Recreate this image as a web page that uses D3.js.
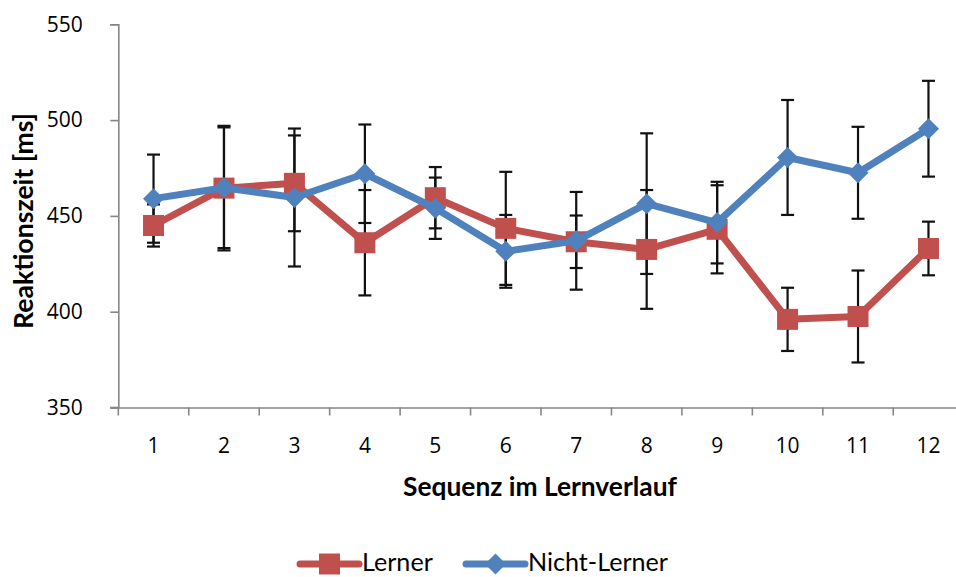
<!DOCTYPE html>
<html>
<head>
<meta charset="utf-8">
<script src="https://cdn.jsdelivr.net/npm/d3@7"></script>
<style>
  html, body { margin: 0; padding: 0; background: #fff; }
  svg { display: block; }
</style>
</head>
<body>
<svg id="chart" width="956" height="577"></svg>
<script>
// Sequence numbers along the learning course
const categories = ["1", "2", "3", "4", "5", "6", "7", "8", "9", "10", "11", "12"];

// Mean reaction times (ms) and error-bar half-widths
const lerner = [445, 464.5, 467, 436, 459.5, 443.5, 436.5, 432.5, 443, 396, 397.5, 433];
const lernerErr = [11, 32.5, 25, 27.5, 16, 29.5, 13.7, 31, 23, 16.5, 24, 14];
const nichtLerner = [459, 464.7, 459.6, 472, 454, 431.5, 437, 456.4, 446.5, 480.5, 472.5, 495.5];
const nichtLernerErr = [23, 31.5, 36, 25.7, 16, 19, 25.5, 36.7, 21.3, 30, 24, 25];

const yTicks = [350, 400, 450, 500, 550];
const colors = { "Lerner": "#C0504D", "Nicht-Lerner": "#4F81BD" };

const svg = d3.select("#chart");
const axisColor = "#868686";
const FONT = "Lato, 'Open Sans', sans-serif";
const TICK_FONT = "'Open Sans', sans-serif";
const tickSize = 21;

// scale a text element's font size so that it spans the given width
function fitWidth(sel, target) {
  const node = sel.node();
  const size = parseFloat(sel.style("font-size"));
  const w = node.getComputedTextLength();
  const fitted = +(size * target / w).toFixed(2);
  sel.style("font-size", fitted + "px");
  return fitted;
}

const x = d3.scaleBand().domain(categories).range([118.3, 963.7]).padding(0);
const y = d3.scaleLinear().domain([350, 550]).range([407.5, 24.3]);
const cx = c => x(c) + x.bandwidth() / 2;

// Y axis
const yAxis = svg.append("g")
  .attr("transform", "translate(118.3,0)")
  .call(d3.axisLeft(y).tickValues(yTicks).tickSize(8).tickPadding(27.5));
yAxis.select(".domain").attr("stroke", axisColor).attr("stroke-width", 1.6);
yAxis.selectAll(".tick line").attr("stroke", axisColor).attr("stroke-width", 1.6);
yAxis.selectAll(".tick text")
  .style("font-family", TICK_FONT)
  .style("font-size", tickSize + "px").attr("fill", "#000");

// X axis: labels centred in each band, tick marks between categories
const xAxis = svg.append("g")
  .attr("transform", "translate(0,407.5)")
  .call(d3.axisBottom(x).tickSize(0).tickPadding(30.5));
xAxis.select(".domain").attr("stroke", axisColor).attr("stroke-width", 1.6);
xAxis.selectAll(".tick text")
  .style("font-family", TICK_FONT)
  .style("font-size", tickSize + "px").attr("fill", "#000");
const edges = categories.map(c => x(c)).concat([x.range()[1]]);
xAxis.selectAll(".edge").data(edges).enter().append("line")
  .attr("class", "edge")
  .attr("x1", d => d).attr("x2", d => d)
  .attr("y1", 0).attr("y2", 8)
  .attr("stroke", axisColor).attr("stroke-width", 1.6);
// x axis line continues under the lowest y tick
svg.append("line")
  .attr("x1", 110.3).attr("x2", 118.3).attr("y1", 407.5).attr("y2", 407.5)
  .attr("stroke", axisColor).attr("stroke-width", 1.6);

// Axis titles
const yTitle = svg.append("text")
  .attr("transform", "translate(33,221) rotate(-90)")
  .attr("text-anchor", "middle")
  .style("font-family", FONT).style("font-weight", "bold").style("font-size", "20px")
  .attr("fill", "#000")
  .text("Reaktionszeit [ms]");
const xTitle = svg.append("text")
  .attr("x", (x.range()[0] + x.range()[1]) / 2 - 1).attr("y", 496)
  .attr("text-anchor", "middle")
  .style("font-family", FONT).style("font-weight", "bold").style("font-size", "20px")
  .attr("fill", "#000")
  .text("Sequenz im Lernverlauf");
fitWidth(xTitle, 274);
fitWidth(yTitle, 216);

const seriesData = [
  { name: "Lerner", values: lerner, err: lernerErr },
  { name: "Nicht-Lerner", values: nichtLerner, err: nichtLernerErr }
];

// Error bars
const capHalf = 6.5;
const errG = svg.append("g");
seriesData.forEach(s => {
  categories.forEach((c, i) => {
    const hi = y(s.values[i] + s.err[i]);
    const lo = y(s.values[i] - s.err[i]);
    const xc = cx(c);
    errG.append("line").attr("x1", xc).attr("x2", xc).attr("y1", hi).attr("y2", lo)
      .attr("stroke", "#111").attr("stroke-width", 2.2);
    [hi, lo].forEach(yy => errG.append("line")
      .attr("x1", xc - capHalf).attr("x2", xc + capHalf).attr("y1", yy).attr("y2", yy)
      .attr("stroke", "#111").attr("stroke-width", 2.2));
  });
});

const line = d3.line().x((d, i) => cx(categories[i])).y(d => y(d));
const squareSize = 21;
const diamondHalf = 10.5;

function drawMarker(g, name, px, py) {
  if (name === "Lerner") {
    g.append("rect")
      .attr("x", px - squareSize / 2).attr("y", py - squareSize / 2)
      .attr("width", squareSize).attr("height", squareSize)
      .attr("fill", colors[name]);
  } else {
    g.append("path")
      .attr("d", `M${px},${py - diamondHalf}L${px + diamondHalf},${py}L${px},${py + diamondHalf}L${px - diamondHalf},${py}Z`)
      .attr("fill", colors[name]);
  }
}

seriesData.forEach(s => {
  const g = svg.append("g");
  g.append("path").datum(s.values)
    .attr("d", line)
    .attr("fill", "none")
    .attr("stroke", colors[s.name])
    .attr("stroke-width", 7)
    .attr("stroke-linejoin", "round");
  s.values.forEach((v, i) => drawMarker(g, s.name, cx(categories[i]), y(v)));
});

// Legend
const legendY = 564;
const legendBaseline = 571;
const legendItems = [
  { name: "Lerner", x0: 300 },
  { name: "Nicht-Lerner", x0: 466 }
];
const legendTexts = [];
legendItems.forEach(item => {
  const g = svg.append("g");
  g.append("line")
    .attr("x1", item.x0).attr("x2", item.x0 + 59)
    .attr("y1", legendY).attr("y2", legendY)
    .attr("stroke", colors[item.name]).attr("stroke-width", 7)
    .attr("stroke-linecap", "round");
  drawMarker(g, item.name, item.x0 + 29.5, legendY);
  legendTexts.push(g.append("text")
    .attr("x", item.x0 + 62).attr("y", legendBaseline)
    .style("font-family", FONT).style("font-size", "22px")
    .attr("fill", "#000")
    .text(item.name));
});
const legendFont = fitWidth(legendTexts[1], 140);
legendTexts[0].style("font-size", legendFont + "px");
</script>
</body>
</html>
